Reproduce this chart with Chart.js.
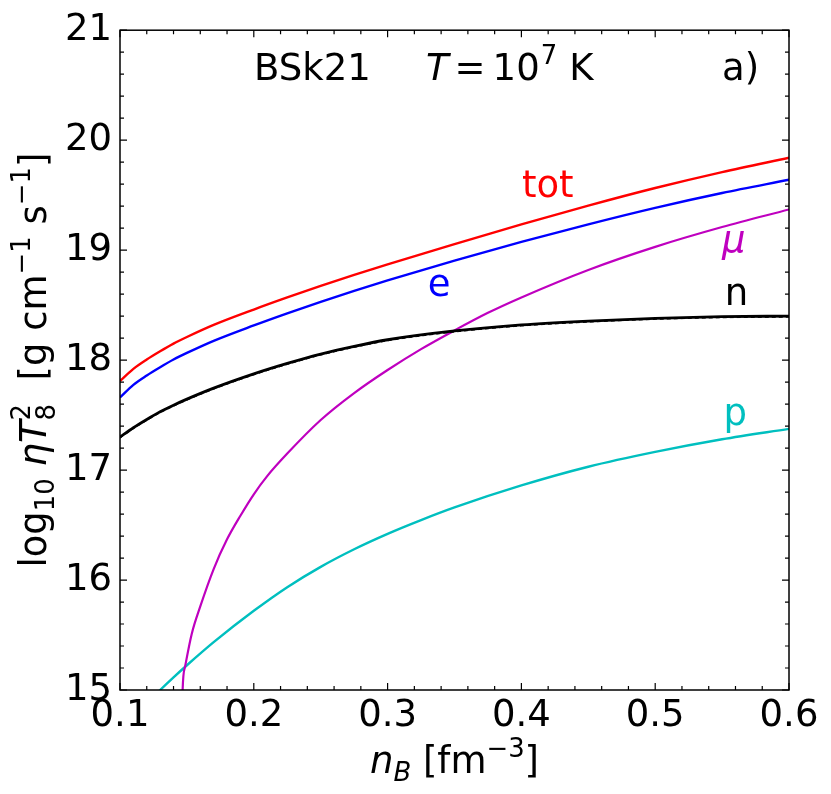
<!DOCTYPE html>
<html>
<head>
<meta charset="utf-8">
<style>
  html, body { margin: 0; padding: 0; background: #fff; }
  canvas { display: block; }
</style>
</head>
<body>
<canvas id="myChart" width="831" height="794"></canvas>
<script src="https://cdn.jsdelivr.net/npm/chart.js@4/dist/chart.umd.min.js"></script>
<script>
// baryon density grid shared by tot, e and n
var nB = [0.10, 0.11, 0.12, 0.13, 0.14, 0.15, 0.17, 0.20, 0.225, 0.25, 0.275, 0.30, 0.35, 0.40, 0.45, 0.50, 0.55, 0.60];
var etaTot = [17.81, 17.92, 18.005, 18.08, 18.15, 18.21, 18.32, 18.46, 18.57, 18.675, 18.775, 18.87, 19.055, 19.235, 19.405, 19.565, 19.71, 19.84];
var etaE   = [17.66, 17.775, 17.86, 17.935, 18.005, 18.065, 18.175, 18.315, 18.425, 18.53, 18.63, 18.725, 18.905, 19.075, 19.235, 19.385, 19.52, 19.64];
var etaN   = [17.30, 17.385, 17.46, 17.53, 17.59, 17.645, 17.745, 17.875, 17.97, 18.055, 18.125, 18.185, 18.265, 18.32, 18.355, 18.38, 18.395, 18.40];
var etaNd  = [17.29, 17.375, 17.45, 17.52, 17.58, 17.635, 17.735, 17.865, 17.96, 18.045, 18.115, 18.175, 18.255, 18.31, 18.345, 18.37, 18.385, 18.39];

// muons switch on near 0.146 fm^-3
var muX   = [0.1462, 0.1468, 0.1486, 0.1536, 0.16, 0.17, 0.18, 0.19, 0.20, 0.21, 0.225, 0.25, 0.275, 0.30, 0.325, 0.35, 0.375, 0.40, 0.45, 0.50, 0.55, 0.60];
var etaMu = [14.5, 15.0, 15.21, 15.51, 15.76, 16.10, 16.37, 16.585, 16.78, 16.945, 17.15, 17.455, 17.70, 17.91, 18.10, 18.27, 18.43, 18.57, 18.82, 19.03, 19.21, 19.37];

var pX   = [0.12, 0.13, 0.14, 0.15, 0.17, 0.20, 0.225, 0.25, 0.275, 0.30, 0.325, 0.35, 0.40, 0.45, 0.50, 0.55, 0.60];
var etaP = [14.88, 15.0, 15.115, 15.225, 15.435, 15.72, 15.935, 16.12, 16.28, 16.42, 16.545, 16.66, 16.86, 17.03, 17.165, 17.28, 17.375];

var xTicks = [0.1, 0.2, 0.3, 0.4, 0.5, 0.6];
var yTicks = [15, 16, 17, 18, 19, 20, 21];

// curve labels, placed in data coordinates
var curveLabels = [
  { text: "tot", x: 0.4004, y: 19.484, color: "#ff0000", it: false },
  { text: "e",   x: 0.3300, y: 18.580, color: "#0000ff", it: false },
  { text: "\u03bc", x: 0.5500, y: 18.980, color: "#bf00bf", it: true },
  { text: "n",   x: 0.5520, y: 18.500, color: "#000000", it: false },
  { text: "p",   x: 0.5510, y: 17.410, color: "#00bfbf", it: false }
];

var FAM = '"DejaVu Sans", sans-serif';
var FS = 37;

function pts(xs, ys) {
  return xs.map(function(x, i){ return { x: x, y: ys[i] }; });
}
function fnt(it, size) {
  return (it ? "italic " : "") + size + "px " + FAM;
}

// tiny rich-text drawer: sub/sup and stacked sub+sup
function rich(ctx, segs, x0, y0, size, draw) {
  var x = x0;
  for (var s of segs) {
    if (s.gap) { x += s.gap; continue; }
    if (s.stack) {
      ctx.font = fnt(false, size * 0.7);
      var w1 = ctx.measureText(s.stack[0]).width, w2 = ctx.measureText(s.stack[1]).width;
      if (draw) {
        ctx.fillText(s.stack[0], x, y0 + size * 0.24);
        ctx.fillText(s.stack[1], x, y0 - size * 0.42);
      }
      x += Math.max(w1, w2);
      continue;
    }
    var sz = s.p ? size * 0.7 : size;
    ctx.font = fnt(s.it, sz);
    var dy = s.p === "sub" ? size * 0.22 : (s.p === "sup" ? -size * 0.42 : 0);
    if (draw) ctx.fillText(s.t, x, y0 + dy);
    x += ctx.measureText(s.t).width;
  }
  return x - x0;
}

var decor = {
  id: "decor",
  afterDatasetsDraw: function(chart) {
    var ctx = chart.ctx, a = chart.chartArea;
    var xs = chart.scales.x, ys = chart.scales.y;
    ctx.save();
    ctx.strokeStyle = "#000";
    ctx.fillStyle = "#000";
    ctx.lineWidth = 1.5;
    ctx.strokeRect(a.left, a.top, a.right - a.left, a.bottom - a.top);

    // inward ticks on all four sides
    ctx.lineWidth = 1.2;
    ctx.beginPath();
    for (var i = 0; i <= 25; i++) {
      var px = xs.getPixelForValue(0.1 + i * 0.02);
      var len = (i % 5 === 0) ? 7 : 4;
      ctx.moveTo(px, a.bottom); ctx.lineTo(px, a.bottom - len);
      ctx.moveTo(px, a.top); ctx.lineTo(px, a.top + len);
    }
    for (var j = 0; j <= 30; j++) {
      var py = ys.getPixelForValue(15 + j * 0.2);
      var l2 = (j % 5 === 0) ? 7 : 4;
      ctx.moveTo(a.left, py); ctx.lineTo(a.left + l2, py);
      ctx.moveTo(a.right, py); ctx.lineTo(a.right - l2, py);
    }
    ctx.stroke();

    ctx.textBaseline = "alphabetic";
    ctx.textAlign = "left";

    // header texts
    ctx.font = fnt(false, FS);
    ctx.fillText("BSk21", 254, 80);
    rich(ctx, [
      { t: "T", it: true }, { gap: 6 }, { t: "=" }, { gap: 7 }, { t: "10" }, { gap: 1 },
      { t: "7", p: "sup" }, { gap: 12 }, { t: "K" }
    ], 426, 80, FS, true);
    ctx.font = fnt(false, FS);
    ctx.fillText("a)", 722, 80);

    // curve labels
    for (var c of curveLabels) {
      ctx.fillStyle = c.color;
      ctx.font = fnt(c.it, FS);
      ctx.fillText(c.text, xs.getPixelForValue(c.x), ys.getPixelForValue(c.y));
    }
    ctx.fillStyle = "#000";

    // x axis title
    var xt = [
      { t: "n", it: true }, { t: "B", it: true, p: "sub" }, { t: " [fm" }, { t: "\u22123", p: "sup" }, { t: "]" }
    ];
    var w = rich(ctx, xt, 0, 0, FS, false);
    rich(ctx, xt, (a.left + a.right) / 2 - w / 2, 773, FS, true);

    // y axis title (rotated)
    var yt = [
      { t: "log" }, { t: "10", p: "sub" }, { t: " " }, { t: "\u03b7T", it: true }, { stack: ["8", "2"] },
      { t: "  [g cm" }, { t: "\u22121", p: "sup" }, { t: " s" }, { t: "\u22121", p: "sup" }, { t: "]" }
    ];
    var wy = rich(ctx, yt, 0, 0, FS, false);
    ctx.translate(46, (a.top + a.bottom) / 2);
    ctx.rotate(-Math.PI / 2);
    rich(ctx, yt, -wy / 2, 0, FS, true);
    ctx.restore();
  }
};

function line(data, color, width, dash) {
  return {
    data: data,
    borderColor: color,
    backgroundColor: color,
    borderWidth: width,
    borderDash: dash || [],
    pointRadius: 0,
    fill: false,
    cubicInterpolationMode: "monotone",
    clip: 0
  };
}

var ctx = document.getElementById("myChart").getContext("2d");
var myChart = new Chart(ctx, {
  type: "line",
  data: {
    datasets: [
      line(pts(nB, etaTot), "#ff0000", 2.4),
      line(pts(nB, etaE), "#0000ff", 2.4),
      line(pts(nB, etaN), "#000000", 2.8),
      line(pts(nB, etaNd), "#000000", 1, [4, 3]),
      line(pts(muX, etaMu), "#bf00bf", 2.2),
      line(pts(pX, etaP), "#00bfbf", 2.4)
    ]
  },
  options: {
    responsive: false,
    animation: false,
    devicePixelRatio: 1,
    layout: { padding: { top: 25, right: 42, left: 0, bottom: 0 } },
    plugins: { legend: { display: false }, tooltip: { enabled: false } },
    scales: {
      x: {
        type: "linear", min: 0.1, max: 0.6,
        afterBuildTicks: function(s){ s.ticks = xTicks.map(function(v){ return { value: v }; }); },
        ticks: {
          callback: function(v){ return v.toFixed(1); },
          font: { family: FAM, size: FS }, color: "#000", padding: 4, maxRotation: 0, autoSkip: false
        },
        grid: { display: false, drawTicks: false },
        border: { display: false },
        afterFit: function(s){ s.height = 104; }
      },
      y: {
        type: "linear", min: 15, max: 21,
        afterBuildTicks: function(s){ s.ticks = yTicks.map(function(v){ return { value: v }; }); },
        ticks: {
          callback: function(v){ return String(v); },
          font: { family: FAM, size: FS }, color: "#000", padding: 8, autoSkip: false
        },
        grid: { display: false, drawTicks: false },
        border: { display: false },
        afterFit: function(s){ s.width = 120; }
      }
    }
  },
  plugins: [decor]
});
</script>
</body>
</html>
